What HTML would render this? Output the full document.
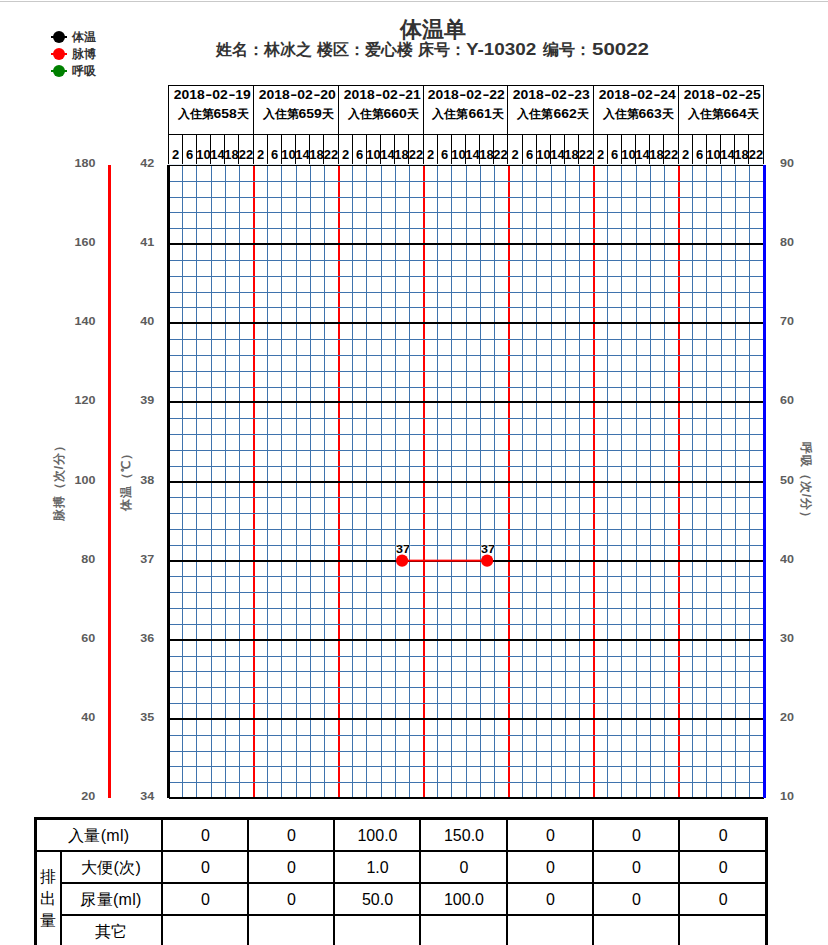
<!DOCTYPE html>
<html lang="zh">
<head>
<meta charset="utf-8">
<title>体温单</title>
<style>
html,body{margin:0;padding:0;background:#fff;}
body{position:relative;width:828px;height:945px;overflow:hidden;font-family:"Liberation Sans",sans-serif;color:#333;}
.abs{position:absolute;white-space:nowrap;}
.topline{left:0;top:1px;width:828px;height:1px;background:#c9c9c9;}
.title{left:0;width:866px;top:16px;text-align:center;font-size:22px;line-height:28px;font-weight:bold;color:#333;}
.sub{left:0;top:39px;width:828px;height:22px;font-size:16px;line-height:22px;font-weight:bold;color:#333;}
.sub>span{position:absolute;top:0;white-space:nowrap;}
.legend{left:72px;font-size:12px;line-height:16px;font-weight:bold;color:#333;}
svg{position:absolute;left:0;top:0;}
.hd{position:absolute;left:168px;top:85px;width:596px;height:79px;}
.day{position:absolute;top:0;height:49px;border-left:1px solid #000;border-top:1px solid #000;box-sizing:border-box;text-align:center;font-size:12px;line-height:19px;font-weight:bold;color:#000;white-space:nowrap;padding-top:0px;}
.day .dt{display:inline-block;transform:scaleX(1.16);transform-origin:50% 50%;position:relative;left:1px;}
.day .l2{position:relative;left:2.5px;}
.day .d{display:inline-block;width:6.5px;text-align:center;transform:scaleX(1.5);}
.hr{position:absolute;top:49px;height:30px;border-left:1px solid #000;border-top:1px solid #000;box-sizing:border-box;font-size:12px;font-weight:bold;color:#000;}
.hr span{position:absolute;left:-10px;right:-10px;top:12px;line-height:16px;text-align:center;white-space:nowrap;transform:scaleX(1.08);}
.yl{font-size:11px;line-height:12px;font-weight:bold;color:#5c5c5c;transform:scaleX(1.14);}
.yl.r{transform-origin:100% 50%;}
.yl.l{transform-origin:0 50%;}
.rot{width:120px;height:14px;text-align:center;font-size:12px;line-height:14px;font-weight:bold;color:#666;letter-spacing:1px;}
.pt{font-size:11px;line-height:12px;font-weight:bold;color:#000;text-shadow:0 0 1px #fff,0 0 1px #fff,0 0 2px #fff;transform:scaleX(1.14);}
table.io{position:absolute;left:34px;top:817px;border-collapse:collapse;table-layout:fixed;font-size:16px;color:#000;}
table.io td{border:2px solid #000;height:30px;padding:0;text-align:center;vertical-align:middle;box-sizing:border-box;white-space:nowrap;}
table.io{border:3px solid #000;}
table.io td.c{font-size:16px;padding-top:4px;letter-spacing:0.3px;}
table.io td.n{padding-top:3px;padding-left:2px;}
</style>
</head>
<body>
<div class="abs topline"></div>
<div class="abs title">体温单</div>
<div class="abs sub"><span style="left:215.5px">姓名：林冰之</span><span style="left:316.84px">楼区：爱心楼</span><span style="left:418.19px">床号：</span><span style="left:466.2px"><span style="display:inline-block;transform:scaleX(1.18);margin-left:0.0px;margin-right:10.73px;transform-origin:0 50%">Y-10302</span></span><span style="left:542.88px">编号：</span><span style="left:592.39px"><span style="display:inline-block;transform:scaleX(1.28);margin-left:0.0px;margin-right:12.46px;transform-origin:0 50%">50022</span></span></div>
<div class="abs legend" style="top:29px">体温</div>
<div class="abs legend" style="top:46px">脉博</div>
<div class="abs legend" style="top:63px">呼吸</div>
<svg width="828" height="810" viewBox="0 0 828 810" shape-rendering="crispEdges">
<g shape-rendering="auto">
<rect x="51" y="36" width="16" height="2" fill="#000"/><circle cx="59" cy="37" r="6" fill="#000"/>
<rect x="51" y="53" width="16" height="2" fill="#f00"/><circle cx="59" cy="54" r="6" fill="#f00"/>
<rect x="51" y="70" width="16" height="2" fill="#008000"/><circle cx="59" cy="71" r="6" fill="#008000"/>
</g>
<rect x="168" y="164" width="596" height="1" fill="#e4ecf5"/>
<path fill="#3f73ad" d="M182 165h1v632h-1zM196 165h1v632h-1zM211 165h1v632h-1zM225 165h1v632h-1zM239 165h1v632h-1zM267 165h1v632h-1zM281 165h1v632h-1zM296 165h1v632h-1zM310 165h1v632h-1zM324 165h1v632h-1zM352 165h1v632h-1zM366 165h1v632h-1zM381 165h1v632h-1zM395 165h1v632h-1zM409 165h1v632h-1zM437 165h1v632h-1zM451 165h1v632h-1zM466 165h1v632h-1zM480 165h1v632h-1zM494 165h1v632h-1zM522 165h1v632h-1zM536 165h1v632h-1zM551 165h1v632h-1zM565 165h1v632h-1zM579 165h1v632h-1zM607 165h1v632h-1zM621 165h1v632h-1zM636 165h1v632h-1zM650 165h1v632h-1zM664 165h1v632h-1zM692 165h1v632h-1zM706 165h1v632h-1zM721 165h1v632h-1zM735 165h1v632h-1zM749 165h1v632h-1z"/>
<path fill="#f00" d="M253 166h2v631h-2zM338 166h2v631h-2zM423 166h2v631h-2zM508 166h2v631h-2zM593 166h2v631h-2zM678 166h2v631h-2z"/>
<path fill="#3f73ad" d="M169 181h594v1h-594zM169 197h594v1h-594zM169 212h594v1h-594zM169 228h594v1h-594zM169 260h594v1h-594zM169 276h594v1h-594zM169 292h594v1h-594zM169 307h594v1h-594zM169 339h594v1h-594zM169 355h594v1h-594zM169 371h594v1h-594zM169 387h594v1h-594zM169 418h594v1h-594zM169 434h594v1h-594zM169 450h594v1h-594zM169 466h594v1h-594zM169 497h594v1h-594zM169 513h594v1h-594zM169 529h594v1h-594zM169 545h594v1h-594zM169 576h594v1h-594zM169 592h594v1h-594zM169 608h594v1h-594zM169 624h594v1h-594zM169 656h594v1h-594zM169 671h594v1h-594zM169 687h594v1h-594zM169 703h594v1h-594zM169 735h594v1h-594zM169 751h594v1h-594zM169 766h594v1h-594zM169 782h594v1h-594z"/>
<path fill="#000" d="M168 165h596v1h-596zM169 243h595v2h-595zM169 322h595v2h-595zM169 401h595v2h-595zM169 481h595v2h-595zM169 560h595v2h-595zM169 639h595v2h-595zM169 718h595v2h-595zM169 797h595v2h-595z"/>
<rect x="167" y="165" width="3" height="633" fill="#000"/>
<rect x="763" y="165" width="3" height="633" fill="#00f"/>
<rect x="108" y="165" width="3" height="633" fill="#f00"/>
<g shape-rendering="auto"><rect x="402" y="559.65" width="85" height="2" fill="#f00"/><circle cx="402.1" cy="560.65" r="6.1" fill="#f00"/><circle cx="487.1" cy="560.65" r="6.1" fill="#f00"/></g>
</svg>
<div class="hd">
<div class="day" style="left:0px;width:85px"><span class="dt">2018<span class="d">-</span>02<span class="d">-</span>19</span><br><span class="l2">入住第<span style="display:inline-block;transform:scaleX(1.16);margin:0 1.60px;transform-origin:50% 50%">658</span>天</span></div>
<div class="hr" style="left:0px;width:14px"><span>2</span></div><div class="hr" style="left:14px;width:14px"><span>6</span></div><div class="hr" style="left:28px;width:14px"><span>10</span></div><div class="hr" style="left:42px;width:14px"><span>14</span></div><div class="hr" style="left:56px;width:14px"><span>18</span></div><div class="hr" style="left:70px;width:15px"><span>22</span></div>
<div class="day" style="left:85px;width:85px"><span class="dt">2018<span class="d">-</span>02<span class="d">-</span>20</span><br><span class="l2">入住第<span style="display:inline-block;transform:scaleX(1.16);margin:0 1.60px;transform-origin:50% 50%">659</span>天</span></div>
<div class="hr" style="left:85px;width:14px"><span>2</span></div><div class="hr" style="left:99px;width:14px"><span>6</span></div><div class="hr" style="left:113px;width:14px"><span>10</span></div><div class="hr" style="left:127px;width:14px"><span>14</span></div><div class="hr" style="left:141px;width:14px"><span>18</span></div><div class="hr" style="left:155px;width:15px"><span>22</span></div>
<div class="day" style="left:170px;width:85px"><span class="dt">2018<span class="d">-</span>02<span class="d">-</span>21</span><br><span class="l2">入住第<span style="display:inline-block;transform:scaleX(1.16);margin:0 1.60px;transform-origin:50% 50%">660</span>天</span></div>
<div class="hr" style="left:170px;width:14px"><span>2</span></div><div class="hr" style="left:184px;width:14px"><span>6</span></div><div class="hr" style="left:198px;width:14px"><span>10</span></div><div class="hr" style="left:212px;width:14px"><span>14</span></div><div class="hr" style="left:226px;width:14px"><span>18</span></div><div class="hr" style="left:240px;width:15px"><span>22</span></div>
<div class="day" style="left:255px;width:84px"><span class="dt">2018<span class="d">-</span>02<span class="d">-</span>22</span><br><span class="l2">入住第<span style="display:inline-block;transform:scaleX(1.16);margin:0 1.60px;transform-origin:50% 50%">661</span>天</span></div>
<div class="hr" style="left:255px;width:14px"><span>2</span></div><div class="hr" style="left:269px;width:14px"><span>6</span></div><div class="hr" style="left:283px;width:14px"><span>10</span></div><div class="hr" style="left:297px;width:14px"><span>14</span></div><div class="hr" style="left:311px;width:14px"><span>18</span></div><div class="hr" style="left:325px;width:14px"><span>22</span></div>
<div class="day" style="left:339px;width:86px"><span class="dt">2018<span class="d">-</span>02<span class="d">-</span>23</span><br><span class="l2">入住第<span style="display:inline-block;transform:scaleX(1.16);margin:0 1.60px;transform-origin:50% 50%">662</span>天</span></div>
<div class="hr" style="left:339px;width:15px"><span>2</span></div><div class="hr" style="left:354px;width:14px"><span>6</span></div><div class="hr" style="left:368px;width:14px"><span>10</span></div><div class="hr" style="left:382px;width:14px"><span>14</span></div><div class="hr" style="left:396px;width:14px"><span>18</span></div><div class="hr" style="left:410px;width:15px"><span>22</span></div>
<div class="day" style="left:425px;width:85px"><span class="dt">2018<span class="d">-</span>02<span class="d">-</span>24</span><br><span class="l2">入住第<span style="display:inline-block;transform:scaleX(1.16);margin:0 1.60px;transform-origin:50% 50%">663</span>天</span></div>
<div class="hr" style="left:425px;width:14px"><span>2</span></div><div class="hr" style="left:439px;width:14px"><span>6</span></div><div class="hr" style="left:453px;width:14px"><span>10</span></div><div class="hr" style="left:467px;width:14px"><span>14</span></div><div class="hr" style="left:481px;width:14px"><span>18</span></div><div class="hr" style="left:495px;width:15px"><span>22</span></div>
<div class="day" style="left:510px;width:85px"><span class="dt">2018<span class="d">-</span>02<span class="d">-</span>25</span><br><span class="l2">入住第<span style="display:inline-block;transform:scaleX(1.16);margin:0 1.60px;transform-origin:50% 50%">664</span>天</span></div>
<div class="hr" style="left:510px;width:14px"><span>2</span></div><div class="hr" style="left:524px;width:14px"><span>6</span></div><div class="hr" style="left:538px;width:14px"><span>10</span></div><div class="hr" style="left:552px;width:14px"><span>14</span></div><div class="hr" style="left:566px;width:14px"><span>18</span></div><div class="hr" style="left:580px;width:15px"><span>22</span></div>
<div style="position:absolute;left:595px;top:0;width:1px;height:79px;background:#000"></div>
</div>
<div class="abs yl r" style="right:733px;top:157px">180</div><div class="abs yl r" style="right:674px;top:157px">42</div><div class="abs yl l" style="left:779.5px;top:157px">90</div>
<div class="abs yl r" style="right:733px;top:236px">160</div><div class="abs yl r" style="right:674px;top:236px">41</div><div class="abs yl l" style="left:779.5px;top:236px">80</div>
<div class="abs yl r" style="right:733px;top:315px">140</div><div class="abs yl r" style="right:674px;top:315px">40</div><div class="abs yl l" style="left:779.5px;top:315px">70</div>
<div class="abs yl r" style="right:733px;top:394px">120</div><div class="abs yl r" style="right:674px;top:394px">39</div><div class="abs yl l" style="left:779.5px;top:394px">60</div>
<div class="abs yl r" style="right:733px;top:474px">100</div><div class="abs yl r" style="right:674px;top:474px">38</div><div class="abs yl l" style="left:779.5px;top:474px">50</div>
<div class="abs yl r" style="right:733px;top:553px">80</div><div class="abs yl r" style="right:674px;top:553px">37</div><div class="abs yl l" style="left:779.5px;top:553px">40</div>
<div class="abs yl r" style="right:733px;top:632px">60</div><div class="abs yl r" style="right:674px;top:632px">36</div><div class="abs yl l" style="left:779.5px;top:632px">30</div>
<div class="abs yl r" style="right:733px;top:711px">40</div><div class="abs yl r" style="right:674px;top:711px">35</div><div class="abs yl l" style="left:779.5px;top:711px">20</div>
<div class="abs yl r" style="right:733px;top:790px">20</div><div class="abs yl r" style="right:674px;top:790px">34</div><div class="abs yl l" style="left:779.5px;top:790px">10</div>
<div class="abs rot" style="left:-1px;top:472.83px;transform:rotate(-90deg)">脉搏（次/分）</div>
<div class="abs rot" style="left:66px;top:472px;transform:rotate(-90deg)">体温（℃）</div>
<div class="abs rot" style="left:746px;top:476.17px;transform:rotate(90deg)">呼吸（次/分）</div>
<div class="abs pt" style="left:382.5px;width:40px;text-align:center;top:542.6px">37</div>
<div class="abs pt" style="left:467.5px;width:40px;text-align:center;top:542.6px">37</div>
<table class="io"><colgroup><col style="width:25px"><col style="width:101px"><col style="width:86px"><col style="width:86px"><col style="width:86px"><col style="width:87px"><col style="width:86px"><col style="width:86px"><col style="width:88px"></colgroup>
<tr style="height:32px"><td colspan="2" class="c">入量(ml)</td><td class="n">0</td><td class="n">0</td><td class="n">100.0</td><td class="n">150.0</td><td class="n">0</td><td class="n">0</td><td class="n">0</td></tr>
<tr style="height:32px"><td rowspan="3" class="c" style="line-height:22px;white-space:normal;padding-top:1px">排<br>出<br>量</td><td class="c">大便(次)</td><td class="n">0</td><td class="n">0</td><td class="n">1.0</td><td class="n">0</td><td class="n">0</td><td class="n">0</td><td class="n">0</td></tr>
<tr style="height:32px"><td class="c">尿量(ml)</td><td class="n">0</td><td class="n">0</td><td class="n">50.0</td><td class="n">100.0</td><td class="n">0</td><td class="n">0</td><td class="n">0</td></tr>
<tr style="height:32px"><td class="c">其它</td><td class="n"></td><td class="n"></td><td class="n"></td><td class="n"></td><td class="n"></td><td class="n"></td><td class="n"></td></tr>
</table>
</body>
</html>
